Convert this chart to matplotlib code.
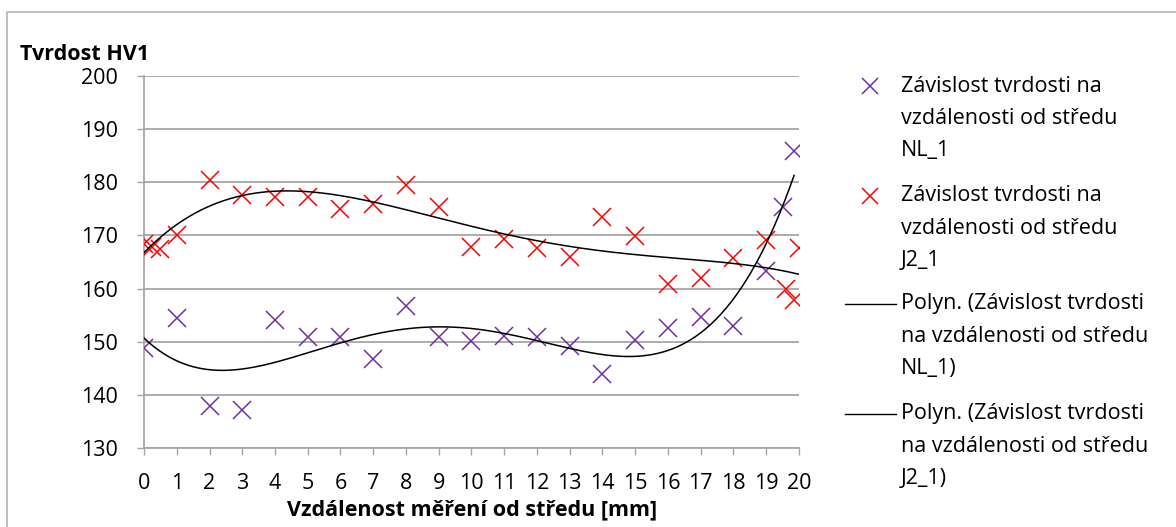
import numpy as np
import matplotlib
matplotlib.use("Agg")
import matplotlib.pyplot as plt
from matplotlib.lines import Line2D

# ---- data ----
x_nl = [0, 1, 2, 3, 4, 5, 6, 7, 8, 9, 10, 11, 12, 13, 14, 15, 16, 17, 18, 19, 19.5, 19.85]
hv_nl = [148.8, 154.5, 137.9, 137.1, 154.1, 150.8, 150.8, 146.8, 156.7, 150.8, 150.1,
         151.1, 150.8, 149.1, 143.9, 150.3, 152.6, 154.6, 153.0, 163.3, 175.3, 185.9]

x_j2 = [0, 0.25, 0.5, 1, 2, 3, 4, 5, 6, 7, 8, 9, 10, 11, 12, 13, 14, 15, 16, 17, 18, 19,
        19.6, 19.85, 20]
hv_j2 = [168.3, 167.9, 167.5, 170.1, 180.4, 177.6, 177.3, 177.2, 175.0, 175.9, 179.4, 175.4,
         167.9, 169.3, 167.6, 166.0, 173.5, 169.9, 160.9, 161.9, 165.7, 169.2, 159.9, 157.8, 167.6]

poly_degree = 4

x_ticks = list(range(0, 21))
y_ticks = [130, 140, 150, 160, 170, 180, 190, 200]

labels = [
    ["Závislost tvrdosti na", "vzdálenosti od středu", "NL_1"],
    ["Závislost tvrdosti na", "vzdálenosti od středu", "J2_1"],
    ["Polyn. (Závislost tvrdosti", "na vzdálenosti od středu", "NL_1)"],
    ["Polyn. (Závislost tvrdosti", "na vzdálenosti od středu", "J2_1)"],
]
y_label = "Tvrdost HV1"
x_label = "Vzdálenost měření od středu [mm]"

PURPLE = "#7030A0"
RED = "#FF0000"
GRID = "#A6A6A6"
FONT = "Open Sans"
FS = 15.5

W, H = 1176, 527
plt.rcParams['font.family'] = [FONT, 'DejaVu Sans']
fig = plt.figure(figsize=(W / 100, H / 100), dpi=100)


def fx(px):
    return px / W


def fy(py):
    return 1 - py / H


ax = fig.add_axes([fx(144), fy(448), fx(799) - fx(144), fy(76) - fy(448)])

ax.plot(x_nl, hv_nl, linestyle='none', marker='x', color=PURPLE, markersize=13, mew=1.1, zorder=3)
ax.plot(x_j2, hv_j2, linestyle='none', marker='x', color=RED, markersize=13, mew=1.1, zorder=3)

# polynomial trendlines (as Excel "Polyn." trendline), fitted to the data
for xs, ys in [(x_nl, hv_nl), (x_j2, hv_j2)]:
    p = np.polyfit(xs, ys, poly_degree)
    xx = np.linspace(min(xs), max(xs), 400)
    ax.plot(xx, np.polyval(p, xx), color='black', lw=1.1, zorder=4)

ax.set_xlim(0, 20)
ax.set_ylim(130, 200)
ax.set_xticks(x_ticks)
ax.set_yticks(y_ticks)
ax.grid(axis='y', color=GRID, lw=1.3)
ax.set_axisbelow(True)
for s in ['top', 'right']:
    ax.spines[s].set_visible(False)
for s in ['left', 'bottom']:
    ax.spines[s].set_color(GRID)
    ax.spines[s].set_linewidth(1.3)
ax.tick_params(axis='both', direction='out', length=5, width=1.0, color=GRID,
               labelsize=FS, labelcolor='black')
ax.tick_params(axis='y', pad=13.5)
ax.tick_params(axis='x', pad=13)
for t in ax.get_xticklabels() + ax.get_yticklabels():
    t.set_fontfamily(FONT)

fig.text(fx(20), fy(54), y_label, fontsize=FS, fontweight='bold', ha='left', va='center',
         family=FONT)
fig.text(fx(472), fy(510), x_label, fontsize=FS, fontweight='bold', ha='center', va='center',
         family=FONT)

# legend
entry_y = [86, 196, 304, 414]
pitch = 32.3
for i, (ey, lab) in enumerate(zip(entry_y, labels)):
    if i < 2:
        fig.add_artist(Line2D([fx(870)], [fy(ey)], marker='x', linestyle='none',
                              color=[PURPLE, RED][i], markersize=12, mew=1.1,
                              transform=fig.transFigure))
    else:
        fig.add_artist(Line2D([fx(845), fx(896)], [fy(ey), fy(ey)], color='black', lw=1.0,
                              transform=fig.transFigure))
    for j, line in enumerate(lab):
        fig.text(fx(901), fy(ey + j * pitch), line, fontsize=FS, ha='left', va='center',
                 family=FONT)

# outer chart border (left/top visible)
fig.add_artist(Line2D([fx(7), fx(7), fx(1176)], [fy(527), fy(12), fy(12)], color='#B4B4B4',
                      lw=1.2, transform=fig.transFigure))

fig.savefig("out.png", dpi=100)
